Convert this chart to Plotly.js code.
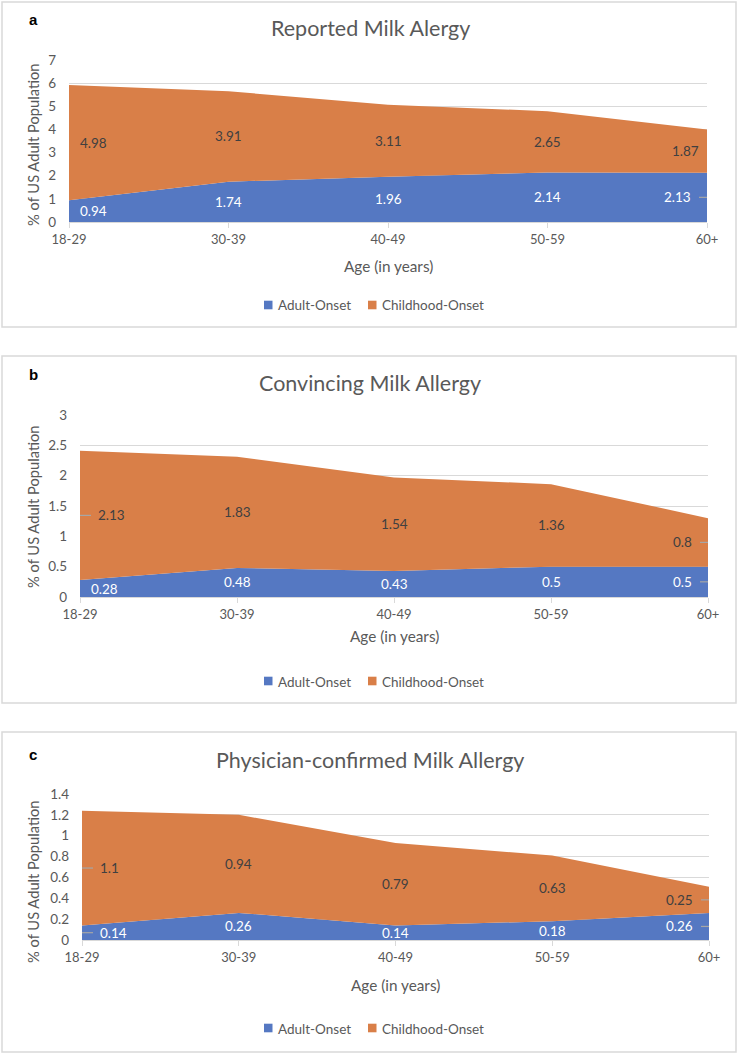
<!DOCTYPE html>
<html>
<head>
<meta charset="utf-8">
<script src="https://cdn.plot.ly/plotly-3.0.1.min.js"></script>
<style>
html,body{margin:0;padding:0;background:#fff;}
#chart{width:740px;height:1054px;}
</style>
</head>
<body>
<div id="chart"></div>
<script>
// ---- data ----
const ageGroups = ['18-29', '30-39', '40-49', '50-59', '60+'];
const seriesNames = ['Adult-Onset', 'Childhood-Onset'];

const reportedAdult = [0.94, 1.74, 1.96, 2.14, 2.13];
const reportedChild = [4.98, 3.91, 3.11, 2.65, 1.87];

const convincingAdult = [0.28, 0.48, 0.43, 0.5, 0.5];
const convincingChild = [2.13, 1.83, 1.54, 1.36, 0.8];

const physicianAdult = [0.14, 0.26, 0.14, 0.18, 0.26];
const physicianChild = [1.1, 0.94, 0.79, 0.63, 0.25];

const panelTitles = ['Reported Milk Alergy', 'Convincing Milk Allergy', 'Physician-confirmed Milk Allergy'];
const panelLetters = ['a', 'b', 'c'];
const yTitle = '% of US Adult Population';
const xTitle = 'Age (in years)';

// ---- layout helpers ----
const W = 740, H = 1054;
const px = x => x / W;
const py = y => 1 - y / H;
const BLUE = '#5578c2';
const ORANGE = '#d97f48';
const GREY_TXT = '#595959';
const GRID = '#d9d9d9';
const LEADER = '#a6a6a6';
const FONT = 'Lato, "Open Sans", sans-serif';

// leaders: [seriesIndex, pointIndex] of labels drawn with a short leader line
const panels = [
  {adult: reportedAdult, child: reportedChild, ymax: 7, dtick: 1,
   x0: 69, x1: 707, yb: 222, yt: 60, box: [2, 2, 736, 327],
   titleY: 28, letterY: 20, yTitleY: 145, xTitleY: 266, legendY: 305,
   leaders: [[0, 4]]},
  {adult: convincingAdult, child: convincingChild, ymax: 3, dtick: 0.5,
   x0: 80, x1: 708, yb: 597, yt: 415, box: [2, 356, 736, 703],
   titleY: 383, letterY: 375, yTitleY: 507, xTitleY: 636, legendY: 681,
   leaders: [[1, 0], [0, 4], [1, 4]]},
  {adult: physicianAdult, child: physicianChild, ymax: 1.4, dtick: 0.2,
   x0: 82, x1: 709, yb: 940, yt: 794, box: [2, 732, 736, 1052],
   titleY: 760, letterY: 754, yTitleY: 882, xTitleY: 985, legendY: 1028,
   leaders: [[0, 0], [1, 0], [0, 4], [1, 4]]}
];

const data = [];
const annotations = [];
const shapes = [];
const layout = {
  width: W, height: H,
  margin: {l: 0, r: 0, t: 0, b: 0},
  paper_bgcolor: '#fff', plot_bgcolor: '#fff',
  font: {family: FONT, color: GREY_TXT, size: 13},
  showlegend: false,
  hovermode: false
};

panels.forEach((p, i) => {
  const s = i === 0 ? '' : String(i + 1);
  const xa = 'x' + s, ya = 'y' + s;
  const series = [p.adult, p.child];

  // stacked areas
  data.push({
    type: 'scatter', x: ageGroups, y: p.adult, xaxis: xa, yaxis: ya,
    stackgroup: 'g' + i, mode: 'none', fillcolor: BLUE, name: seriesNames[0],
    hoverinfo: 'skip'
  });
  data.push({
    type: 'scatter', x: ageGroups, y: p.child, xaxis: xa, yaxis: ya,
    stackgroup: 'g' + i, mode: 'none', fillcolor: ORANGE, name: seriesNames[1],
    hoverinfo: 'skip'
  });

  layout['xaxis' + s] = {
    domain: [px(p.x0), px(p.x1)], anchor: ya, type: 'category',
    range: [0, ageGroups.length - 1],
    showline: true, linecolor: GRID, linewidth: 1,
    ticks: 'outside', ticklen: 5, tickcolor: GRID,
    showgrid: false, zeroline: false, fixedrange: true,
    tickfont: {size: 13, color: GREY_TXT}
  };
  layout['yaxis' + s] = {
    domain: [py(p.yb), py(p.yt)], anchor: xa,
    range: [0, p.ymax], dtick: p.dtick, tick0: 0,
    showgrid: true, gridcolor: GRID, gridwidth: 1,
    showline: false, zeroline: false, fixedrange: true,
    ticks: '', ticklabelstandoff: 12,
    tickfont: {size: 13.5, color: GREY_TXT}
  };

  // box
  shapes.push({type: 'rect', xref: 'paper', yref: 'paper',
    x0: px(p.box[0]), x1: px(p.box[2]), y0: py(p.box[1]), y1: py(p.box[3]),
    line: {color: GRID, width: 1.5}, fillcolor: 'rgba(0,0,0,0)', layer: 'below'});

  // title
  annotations.push({xref: 'paper', yref: 'paper', x: px(370), y: py(p.titleY),
    text: panelTitles[i], showarrow: false, xanchor: 'center', yanchor: 'middle',
    font: {size: 21.5, color: GREY_TXT}});
  // letter
  annotations.push({xref: 'paper', yref: 'paper', x: px(33), y: py(p.letterY),
    text: '<b>' + panelLetters[i] + '</b>', showarrow: false, xanchor: 'center', yanchor: 'middle',
    font: {size: 15, color: '#000', family: 'Liberation Sans, Arial, sans-serif'}});
  // y title
  annotations.push({xref: 'paper', yref: 'paper', x: px(33), y: py(p.yTitleY),
    text: yTitle, showarrow: false, textangle: -90, xanchor: 'center', yanchor: 'middle',
    font: {size: 14.7, color: GREY_TXT}});
  // x title
  annotations.push({xref: 'paper', yref: 'paper', x: px((p.x0 + p.x1) / 2), y: py(p.xTitleY),
    text: xTitle, showarrow: false, xanchor: 'center', yanchor: 'middle',
    font: {size: 15.3, color: GREY_TXT}});

  // legend (Excel style: small square + text)
  const legendItems = [[264, BLUE, seriesNames[0]], [368, ORANGE, seriesNames[1]]];
  legendItems.forEach(([lx, col, name]) => {
    shapes.push({type: 'rect', xref: 'paper', yref: 'paper',
      x0: px(lx), x1: px(lx + 8.5), y0: py(p.legendY - 4.3), y1: py(p.legendY + 4.3),
      line: {width: 0}, fillcolor: col});
    annotations.push({xref: 'paper', yref: 'paper', x: px(lx + 12), y: py(p.legendY + 0.5),
      text: name, showarrow: false, xanchor: 'left', yanchor: 'middle',
      font: {size: 13.5, color: GREY_TXT}});
  });

  // data labels
  const n = ageGroups.length;
  const isLeader = (k, j) => p.leaders.some(([a, b]) => a === k && b === j);
  series.forEach((vals, k) => {
    vals.forEach((v, j) => {
      const base = k === 0 ? 0 : p.adult[j];
      const yMid = base + v / 2;
      const lead = isLeader(k, j);
      const xanchor = j === 0 ? 'left' : (j === n - 1 ? 'right' : 'center');
      let xshift = 0;
      if (j === 0) xshift = lead ? 16 : 9;
      if (j === n - 1) xshift = lead ? -14 : -6;
      annotations.push({xref: xa, yref: ya, x: j, y: yMid,
        text: String(v), showarrow: false, xanchor, xshift, yanchor: 'middle',
        font: {size: 13.5, color: k === 0 ? '#ffffff' : '#404040'}});
      if (lead) {
        const x0 = j === 0 ? 0 : -8, x1 = j === 0 ? 11 : 0;
        shapes.push({type: 'line', xref: xa, yref: ya, xsizemode: 'pixel', xanchor: j,
          x0, x1, y0: yMid, y1: yMid, line: {color: LEADER, width: 1.2}});
      }
    });
  });
});

layout.annotations = annotations;
layout.shapes = shapes;

Plotly.newPlot('chart', data, layout, {displayModeBar: false, staticPlot: true});
</script>
</body>
</html>
